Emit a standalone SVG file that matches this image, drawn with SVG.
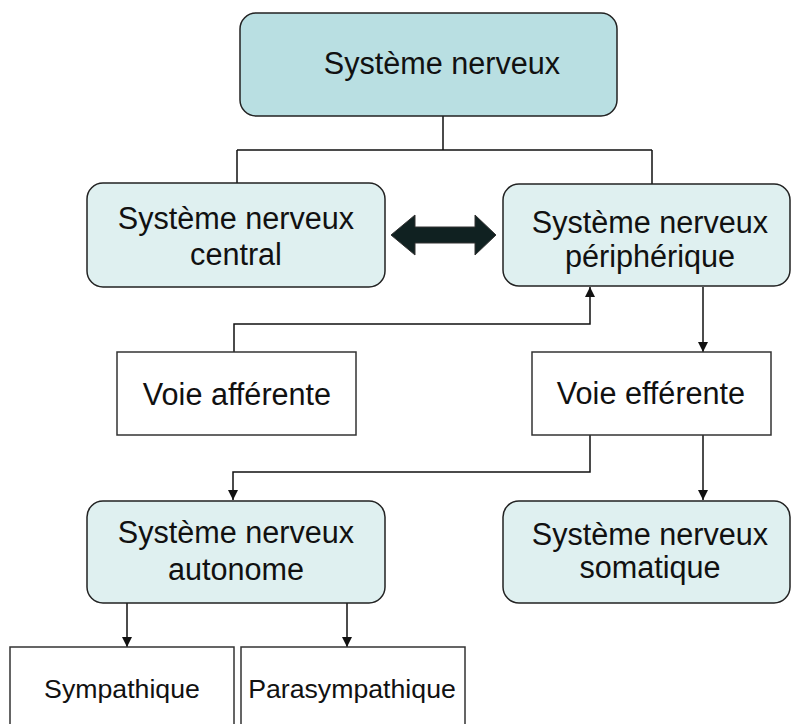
<svg xmlns="http://www.w3.org/2000/svg" width="791" height="724" viewBox="0 0 791 724">
<style>
.t{font-family:"Liberation Sans",Arial,sans-serif;font-size:30.6px;fill:#111;text-anchor:middle}
.s{font-family:"Liberation Sans",Arial,sans-serif;font-size:26.7px;fill:#111;text-anchor:middle}
.top{fill:#b9dfe2;stroke:#222;stroke-width:1.5}
.mid{fill:#dff0f0;stroke:#222;stroke-width:1.5}
.sq{fill:#fff;stroke:#333;stroke-width:1.5}
.c{fill:none;stroke:#111;stroke-width:1.5}
</style>
<defs>
<marker id="a" viewBox="0 0 10 10" refX="10" refY="5" markerWidth="10" markerHeight="10" markerUnits="userSpaceOnUse" orient="auto">
<path d="M0,0 L10,5 L0,10 Z" fill="#111"/>
</marker>
</defs>
<g id="connectors">
<path class="c" d="M443,116 V150 M237,150 H652 M237,150 V183 M652,150 V184"/>
<path class="c" d="M234,352 V324 H590 V287" marker-end="url(#a)"/>
<path class="c" d="M703,287 V352" marker-end="url(#a)"/>
<path class="c" d="M590,435 V472 H233 V500" marker-end="url(#a)"/>
<path class="c" d="M703,435 V500" marker-end="url(#a)"/>
<path class="c" d="M127,603 V647" marker-end="url(#a)"/>
<path class="c" d="M347,603 V647" marker-end="url(#a)"/>
<path d="M391,235 L415,215 L415,227 L475,227 L475,215 L496,235 L475,255 L475,243 L415,243 L415,255 Z" fill="#102121" stroke="#333" stroke-width="1"/>
</g>
<g id="n-sn"><rect class="top" x="240" y="13" width="377" height="103" rx="16"/><text class="t" x="442" y="74">Système nerveux</text></g>
<g id="n-snc"><rect class="mid" x="87" y="183" width="298" height="104" rx="16"/><text class="t" x="236" y="229">Système nerveux</text><text class="t" x="236" y="265">central</text></g>
<g id="n-snp"><rect class="mid" x="503" y="184" width="287" height="102" rx="16"/><text class="t" x="650" y="233">Système nerveux</text><text class="t" x="650" y="267">périphérique</text></g>
<g id="n-aff"><rect class="sq" x="117" y="352" width="239" height="83"/><text class="t" x="237" y="405">Voie afférente</text></g>
<g id="n-eff"><rect class="sq" x="532" y="352" width="239" height="83"/><text class="t" x="651" y="404">Voie efférente</text></g>
<g id="n-sna"><rect class="mid" x="87" y="501" width="298" height="102" rx="16"/><text class="t" x="236" y="543">Système nerveux</text><text class="t" x="236" y="580">autonome</text></g>
<g id="n-sns"><rect class="mid" x="503" y="501" width="287" height="102" rx="16"/><text class="t" x="650" y="545">Système nerveux</text><text class="t" x="650" y="578">somatique</text></g>
<g id="n-sym"><rect class="sq" x="10" y="647" width="224" height="80"/><text class="s" x="122" y="698">Sympathique</text></g>
<g id="n-par"><rect class="sq" x="241" y="647" width="224" height="80"/><text class="s" x="352" y="698">Parasympathique</text></g>
</svg>
